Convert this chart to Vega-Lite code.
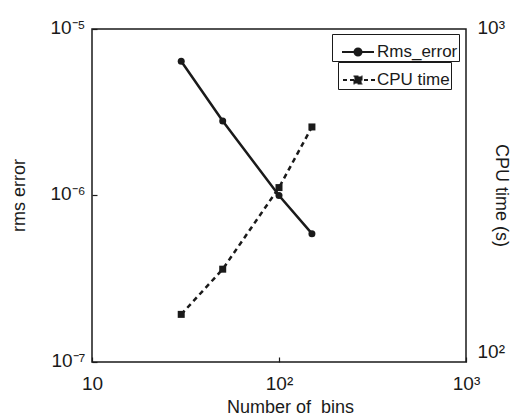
{
  "$schema": "https://vega.github.io/schema/vega-lite/v6.json",
  "width": 374,
  "height": 333,
  "autosize": {"type": "none"},
  "padding": {"left": 92, "top": 29, "right": 45, "bottom": 54},
  "background": "white",
  "config": {
    "font": "Liberation Sans",
    "view": {"stroke": "#1a1a1a", "strokeWidth": 1.5},
    "axis": {
      "domain": false,
      "grid": false,
      "labelColor": "#1a1a1a",
      "titleColor": "#1a1a1a",
      "tickColor": "#1a1a1a",
      "labelFont": "Liberation Sans",
      "titleFont": "Liberation Sans",
      "labelFontSize": 19,
      "titleFontSize": 18,
      "titleFontWeight": "normal",
      "labelFlush": false,
      "labelOverlap": false
    }
  },
  "data": {
    "values": [
      {"bins": 30, "rms": 6.4e-6, "cpu": 139},
      {"bins": 50, "rms": 2.8e-6, "cpu": 190},
      {"bins": 100, "rms": 1.0e-6, "cpu": 334},
      {"bins": 150, "rms": 5.9e-7, "cpu": 508}
    ]
  },
  "encoding": {
    "x": {
      "field": "bins",
      "type": "quantitative",
      "scale": {"type": "log", "domain": [10, 1000], "nice": false},
      "axis": {
        "values": [10, 100, 1000],
        "labelExpr": "datum.value == 10 ? '10' : datum.value == 100 ? '10²' : '10³'",
        "tickSize": -5,
        "tickWidth": 1.2,
        "labelPadding": 17,
        "labelBaseline": "top",
        "title": "Number of\u00a0 bins",
        "titleX": 198,
        "titleY": 50,
        "titleBaseline": "alphabetic"
      }
    }
  },
  "layer": [
    {
      "mark": {
        "type": "line",
        "strokeWidth": 2.5,
        "point": {"filled": true, "size": 49, "shape": "circle", "opacity": 1}
      },
      "encoding": {
        "y": {
          "field": "rms",
          "type": "quantitative",
          "scale": {"type": "log", "domain": [1e-7, 1e-5], "nice": false},
          "axis": {
            "orient": "left",
            "values": [1e-7, 1e-6, 1e-5],
            "labelExpr": "datum.value < 5e-7 ? '10⁻⁷' : datum.value < 5e-6 ? '10⁻⁶' : '10⁻⁵'",
            "tickSize": -5,
            "tickWidth": 1.2,
            "labelPadding": 12,
            "labelBaseline": "middle",
            "labelOffset": -2,
            "title": "rms error",
            "titleX": -73,
            "titleY": 166,
            "titleAngle": -90,
            "titleAlign": "center",
            "titleBaseline": "middle"
          }
        },
        "color": {
          "datum": "Rms_error",
          "scale": {"range": ["#1a1a1a"]},
          "legend": {
            "orient": "none",
            "legendX": 240,
            "legendY": 5,
            "title": null,
            "strokeColor": "#1a1a1a",
            "fillColor": "white",
            "padding": 1,
            "symbolType": "M-0.5,0H1.5M0.28,0a0.22,0.22 0 1,0 0.44,0a0.22,0.22 0 1,0 -0.44,0",
            "symbolSize": 1024,
            "symbolStrokeWidth": 2,
            "symbolFillColor": "#1a1a1a",
            "symbolStrokeColor": "#1a1a1a",
            "labelOffset": 10,
            "labelFont": "Liberation Sans",
            "labelFontSize": 17,
            "labelColor": "#1a1a1a"
          }
        }
      }
    },
    {
      "mark": {
        "type": "line",
        "strokeWidth": 2.5,
        "strokeDash": [5, 4],
        "point": {"filled": true, "size": 49, "shape": "square", "opacity": 1}
      },
      "encoding": {
        "y": {
          "field": "cpu",
          "type": "quantitative",
          "scale": {"type": "log", "domain": [100, 1000], "nice": false},
          "axis": {
            "orient": "right",
            "values": [100, 1000],
            "labelExpr": "datum.value < 500 ? '10²' : '10³'",
            "ticks": false,
            "labelPadding": 11,
            "labelAlign": "left",
            "labelBaseline": "alphabetic",
            "labelOffset": {"condition": {"test": "datum.value > 500", "value": 4}, "value": -5},
            "title": "CPU time (s)",
            "titleX": 34,
            "titleY": 166,
            "titleAngle": 90,
            "titleAlign": "center",
            "titleBaseline": "middle"
          }
        },
        "color": {
          "datum": "CPU time",
          "scale": {"range": ["#1a1a1a"]},
          "legend": {
            "orient": "none",
            "legendX": 246,
            "legendY": 33,
            "title": null,
            "strokeColor": "#1a1a1a",
            "fillColor": "white",
            "padding": 1,
            "symbolType": "M-0.8125,0H1.1875M-0.095,-0.22h0.44v0.44h-0.44z",
            "symbolSize": 1024,
            "symbolStrokeWidth": 2,
            "symbolDash": [4, 3],
            "symbolFillColor": "#1a1a1a",
            "symbolStrokeColor": "#1a1a1a",
            "labelOffset": 4,
            "labelFont": "Liberation Sans",
            "labelFontSize": 17,
            "labelColor": "#1a1a1a"
          }
        }
      }
    }
  ],
  "resolve": {
    "scale": {"y": "independent", "color": "independent"},
    "axis": {"y": "independent"},
    "legend": {"color": "independent"}
  }
}
